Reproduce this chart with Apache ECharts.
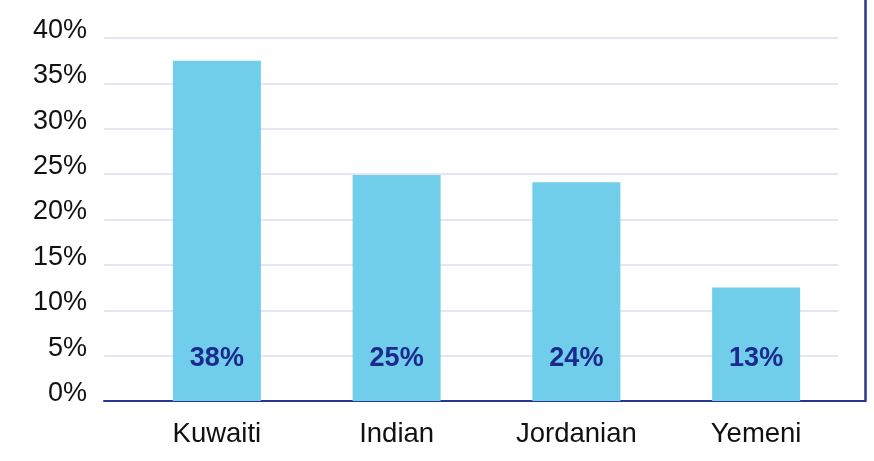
<!DOCTYPE html>
<html><head><meta charset="utf-8">
<script src="https://cdn.jsdelivr.net/npm/echarts@6/dist/echarts.min.js"></script>
<style>html,body{margin:0;padding:0;background:#fff}#c{width:874px;height:461px}</style>
</head><body><div id="c"></div>
<script>
const categories = ['Kuwaiti', 'Indian', 'Jordanian', 'Yemeni'];
const values = [37.5, 24.9, 24.1, 12.5];
const valueLabels = ['38%', '25%', '24%', '13%'];
const yTicks = [0, 5, 10, 15, 20, 25, 30, 35, 40];

const FONT = '"Liberation Sans", Arial, Helvetica, sans-serif';
const chart = echarts.init(document.getElementById('c'), null, {renderer: 'canvas'});
chart.setOption({
  animation: false,
  grid: [
    {left: 104, right: 36, top: 38, bottom: 60},
    {left: 127, right: 28, top: 38, bottom: 60},
    {left: 104, right: 9, top: 0, bottom: 60}
  ],
  xAxis: [
    {gridIndex: 0, type: 'value', show: false, min: 0, max: 1},
    {gridIndex: 1, type: 'category', data: categories,
     axisLine: {show: false}, axisTick: {show: false},
     axisLabel: {color: '#111', fontSize: 27.5, fontFamily: FONT, margin: 19}},
    {gridIndex: 2, type: 'value', min: 0, max: 1,
     axisLine: {show: true, onZero: false, lineStyle: {color: '#2B3593', width: 2}},
     axisTick: {show: false}, axisLabel: {show: false}, splitLine: {show: false}}
  ],
  yAxis: [
    {gridIndex: 0, type: 'value', min: yTicks[0], max: yTicks[yTicks.length - 1], interval: 5,
     axisLine: {show: false}, axisTick: {show: false},
     axisLabel: {color: '#111', fontSize: 27, fontFamily: FONT, margin: 17,
       verticalAlign: 'bottom', lineHeight: 15,
       formatter: v => v + '%'},
     splitLine: {lineStyle: {color: '#DCDCEF', width: 1.5}}},
    {gridIndex: 1, type: 'value', min: 0, max: 40, show: false},
    {gridIndex: 2, type: 'value', min: 0, max: 1, position: 'right',
     axisLine: {show: true, onZero: false, lineStyle: {color: '#2B3593', width: 2.5}},
     axisTick: {show: false}, axisLabel: {show: false}, splitLine: {show: false}}
  ],
  series: [{
    type: 'bar', xAxisIndex: 1, yAxisIndex: 1,
    data: values, barWidth: 88,
    itemStyle: {color: '#70CEEA'},
    label: {show: true, position: 'insideBottom', distance: 29,
      formatter: p => valueLabels[p.dataIndex],
      color: '#1C2A8E', fontSize: 27, fontWeight: 'bold', fontFamily: FONT}
  }]
});
</script></body></html>
